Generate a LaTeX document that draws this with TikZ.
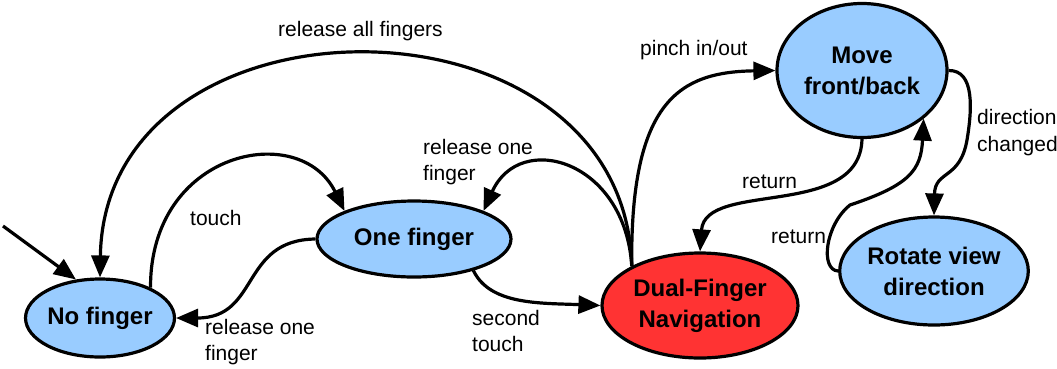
\documentclass[tikz,border=0pt]{standalone}
\usepackage{fontspec}
\setmainfont{Liberation Sans}
\usetikzlibrary{shapes.geometric,arrows.meta}
\definecolor{stateblue}{HTML}{99CCFF}
\definecolor{statered}{HTML}{FF3333}
\tikzset{
  state/.style={ellipse, draw=black, line width=3.2pt, inner sep=0pt, align=center,
    font=\fontsize{24}{31}\selectfont\bfseries},
  bluestate/.style={state, fill=stateblue},
  redstate/.style={state, fill=statered},
  conn/.style={line width=3.2pt, -{Triangle[length=22pt,width=18pt]}},
  lbl/.style={font=\fontsize{21}{26}\selectfont, inner sep=0pt, align=left},
}
\begin{document}
\begin{tikzpicture}[x=1pt,y=-1pt]
\useasboundingbox (0,0) rectangle (1057,368);
\node[bluestate, minimum width=146pt, minimum height=78pt] (nf) at (100,318) {No finger};
\node[bluestate, minimum width=194pt, minimum height=76pt] (of) at (414,239) {One finger};
\node[redstate, minimum width=196pt, minimum height=105pt] (df) at (700,305.5) {Dual-Finger\\Navigation};
\node[bluestate, minimum width=170pt, minimum height=134pt] (mf) at (862,70.5) {Move\\front/back};
\node[bluestate, minimum width=172pt, minimum height=108pt] (rv) at (934,271) {Rotate view\\direction};
\coordinate (init) at (3,226);

\draw[conn] (init) -- (nf.122);
\draw[conn] (df.150) .. controls (625,-18) and (105,-18) .. (nf.north);
\draw[conn] (nf.31) .. controls (150,150) and (300,120) .. (of.158);
\draw[conn] (of.west) .. controls (240,240) and (260,318) .. (nf.east);
\draw[conn] (of.-28) .. controls (490,305) and (540,303) .. (df.west);
\draw[conn] (df.150) .. controls (625,160) and (520,130) .. (of.22);
\draw[conn] (df.150) .. controls (630,100) and (680,72) .. (mf.west);
\draw[conn] (mf.south) .. controls (860,220) and (705,180) .. (df.north);
\draw[conn] (mf.east) .. controls (975,70) and (972,110) .. (967,140) .. controls (960,180) and (935,170) .. (rv.north);
\draw[conn] (rv.west) .. controls (820,270) and (825,225) .. (850,205) .. controls (910,185) and (921,170) .. (mf.-38);

\node[lbl, anchor=west] (l1) at (278,31) {release all fingers};
\node[lbl, anchor=west] (l2) at (190,218) {touch};
\node[lbl, anchor=north west] (l3) at (205,319) {release one\\finger};
\node[lbl, anchor=north west] (l4) at (472,310) {second\\touch};
\node[lbl, anchor=north west] (l5) at (423,139) {release one\\finger};
\node[lbl, anchor=west] (l6) at (640,50) {pinch in/out};
\node[lbl, anchor=west] (l7) at (742,182) {return};
\node[lbl, anchor=west] (l8) at (771,237) {return};
\node[lbl, anchor=north west, font=\fontsize{21}{27}\selectfont] (l9) at (977,109) {direction\\changed};
\end{tikzpicture}
\end{document}
